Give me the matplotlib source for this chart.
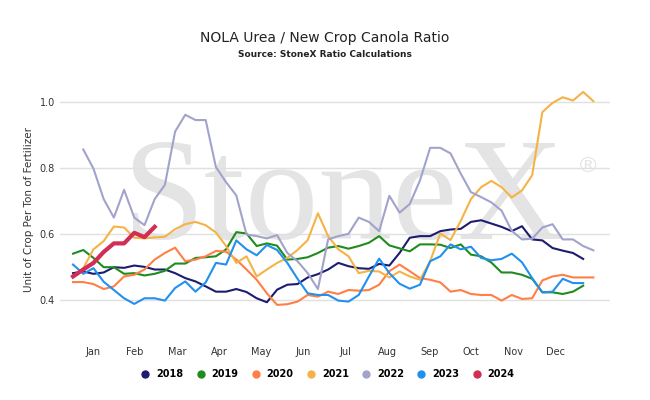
import matplotlib.pyplot as plt
import numpy as np

months = ['Jan', 'Feb', 'Mar', 'Apr', 'May', 'Jun', 'Jul', 'Aug', 'Sep', 'Oct', 'Nov', 'Dec']

y2018 = [.481, .486, .479, .483, .499, .497, .504, .500, .492, .492, .481, .466, .456, .441, .425, .425, .433, .424,
         .405, .393, .431, .446, .448, .468, .478, .492, .512,
         .502, .496, .494, .509, .504, .542, .588, .593, .593, .608, .613, .615, .636, .641, .631, .621, .608,
         .623, .583, .580, .557, .549, .542, .524]
y2019 = [.540, .551, .527, .499, .499, .479, .481, .474, .479, .488, .510, .510, .527, .529, .532, .553, .605, .601,
         .563, .571, .564, .522, .524, .529, .542, .558, .563,
         .555, .563, .573, .593, .565, .556, .547, .568, .568, .567, .557, .568, .537, .532, .513, .483, .483,
         .476, .464, .423, .423, .418, .425, .443]
y2020 = [.454, .454, .448, .433, .441, .471, .476, .492, .522, .542, .558, .517, .522, .532, .548, .546, .522, .492,
         .461, .420, .385, .387, .395, .415, .410, .425, .418,
         .430, .428, .430, .446, .487, .507, .487, .466, .461, .453, .425, .430, .418, .415, .415, .398, .415,
         .403, .405, .459, .471, .476, .468, .468, .468]
y2021 = [.473, .496, .553, .578, .622, .619, .588, .586, .589, .591, .614, .629, .636, .626, .604, .563, .512, .532,
         .471, .492, .512, .527, .551, .581, .662, .593, .553,
         .532, .481, .488, .486, .468, .486, .471, .461, .517, .601, .581, .639, .705, .741, .760, .741, .710,
         .731, .777, .968, .996, 1.013, 1.003, 1.029, 1.001]
y2022 = [np.nan, .855, .797, .705, .649, .733, .649, .626, .705, .748, .909, .960, .944, .944, .802, .756, .716, .598,
         .593, .586, .596, .542, .517, .481, .433, .583, .593,
         .600, .649, .636, .608, .715, .664, .690, .761, .860, .860, .843, .782, .726, .711, .695, .670, .609,
         .583, .585, .619, .629, .583, .583, .563, .550]
y2023 = [.507, .479, .496, .455, .430, .405, .388, .405, .405, .398, .436, .456, .425, .453, .512, .507, .580, .553,
         .535, .566, .551, .512, .464, .420, .415, .415, .398,
         .395, .415, .471, .525, .481, .449, .434, .446, .517, .532, .568, .553, .561, .527, .520, .524, .540,
         .514, .466, .423, .425, .464, .451, .451]
y2024 = [.471, .492, .512, .545, .571, .571, .603, .590, .621]

series = [('2018', y2018, '#1c1c70', 1.5), ('2019', y2019, '#1e8c1e', 1.5), ('2020', y2020, '#ff7f45', 1.5),
          ('2021', y2021, '#f5b347', 1.5), ('2022', y2022, '#a2a3cc', 1.5), ('2023', y2023, '#2290ee', 1.5),
          ('2024', y2024, '#d22d55', 3.0)]

fig = plt.figure(figsize=(6.5, 4), dpi=100)
ax = fig.add_axes([0.092, 0.1675, 0.846, 0.62])

ax.text(26.5, 0.69, 'StoneX', fontsize=106, family='Liberation Serif', color='#e4e4e4',
        ha='center', va='center', zorder=0)
ax.text(50.5, 0.805, '®', fontsize=16, color='#e4e4e4', ha='center', va='center', zorder=0)

for name, ys, col, lw in series:
    ax.plot(np.arange(len(ys)), ys, color=col, lw=lw, label=name, zorder=3)

ax.set_xlim(-1.3, 52.6)
ax.set_ylim(0.3, 1.05)
ax.set_yticks([0.4, 0.6, 0.8, 1.0])
ax.set_yticklabels(['0.4', '0.6', '0.8', '1.0'])
ax.set_xticks([1.96 + 4.12 * i for i in range(12)])
ax.set_xticklabels(months)
ax.tick_params(length=0, labelsize=7, colors='#333333')
ax.tick_params(axis='x', pad=10)
ax.grid(axis='y', color='#e0e0e0', lw=1)
for s in ax.spines.values():
    s.set_visible(False)
ax.set_ylabel('Unit of Crop Per Ton of Fertilizer', fontsize=7.5, color='#333333')

fig.text(0.5, 0.895, 'NOLA Urea / New Crop Canola Ratio', ha='center', fontsize=10, color='#222222')
fig.text(0.5, 0.858, 'Source: StoneX Ratio Calculations', ha='center', fontsize=6.5, weight='bold', color='#222222')

handles = [plt.Line2D([], [], marker='o', ls='', color=c, markersize=5) for _, _, c, _ in series]
fig.legend(handles, [s[0] for s in series], loc='center', bbox_to_anchor=(0.5, 0.065), ncol=7,
           frameon=False, prop={'weight': 'bold', 'size': 7}, handletextpad=0.1, columnspacing=0.8)

fig.savefig('out.png', dpi=100, facecolor='white')
